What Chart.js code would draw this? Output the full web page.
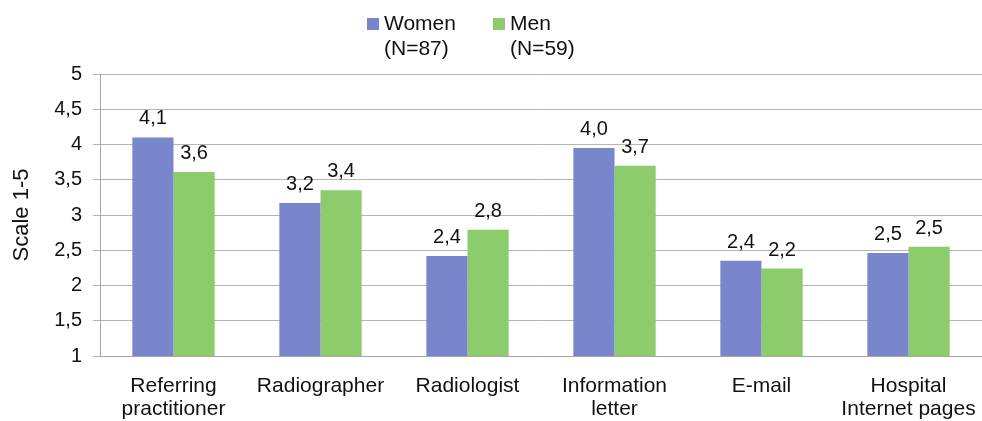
<!DOCTYPE html>
<html>
<head>
<meta charset="utf-8">
<script src="https://cdn.jsdelivr.net/npm/chart.js@4.4.1/dist/chart.umd.min.js"></script>
<style>
  html, body { margin: 0; padding: 0; background: #ffffff; }
  #wrap { width: 982px; height: 421px; position: relative; }
</style>
</head>
<body>
<div id="wrap"><canvas id="c" width="982" height="421"></canvas></div>
<script>
// ---- data ----
const categories = [
  ["Referring", "practitioner"],
  "Radiographer",
  "Radiologist",
  ["Information", "letter"],
  "E-mail",
  ["Hospital", "Internet pages"]
];
const womenValues = [4.10, 3.17, 2.42, 3.95, 2.35, 2.46];
const menValues   = [3.61, 3.35, 2.79, 3.70, 2.24, 2.55];
const womenLabels = ["4,1", "3,2", "2,4", "4,0", "2,4", "2,5"];
const menLabels   = ["3,6", "3,4", "2,8", "3,7", "2,2", "2,5"];
const seriesNames = [["Women", "(N=87)"], ["Men", "(N=59)"]];
const yTickLabels = ["1", "1,5", "2", "2,5", "3", "3,5", "4", "4,5", "5"];

const FONT = "'Liberation Sans', Arial, sans-serif";
const WOMEN_COLOR = "#7a86cb";
const MEN_COLOR = "#8ccc6d";

const dataLabelPlugin = {
  id: "dataLabels",
  afterDatasetsDraw(chart) {
    const ctx = chart.ctx;
    const labelSets = [womenLabels, menLabels];
    ctx.save();
    ctx.font = "20px " + FONT;
    ctx.fillStyle = "#111";
    ctx.textAlign = "center";
    ctx.textBaseline = "alphabetic";
    chart.data.datasets.forEach((ds, i) => {
      const meta = chart.getDatasetMeta(i);
      meta.data.forEach((bar, j) => {
        ctx.fillText(labelSets[i][j], bar.x, bar.y - 13);
      });
    });
    ctx.restore();
  }
};

const customLegend = {
  id: "customLegend",
  afterDraw(chart) {
    const ctx = chart.ctx;
    const items = [
      { color: WOMEN_COLOR, x: 367, text: seriesNames[0] },
      { color: MEN_COLOR, x: 493, text: seriesNames[1] }
    ];
    ctx.save();
    ctx.font = "21px " + FONT;
    ctx.textBaseline = "middle";
    ctx.textAlign = "left";
    items.forEach(it => {
      ctx.fillStyle = it.color;
      ctx.fillRect(it.x, 18, 12, 12);
      ctx.fillStyle = "#111";
      ctx.fillText(it.text[0], it.x + 17, 24);
      ctx.fillText(it.text[1], it.x + 17, 49);
    });
    ctx.restore();
  }
};

new Chart(document.getElementById("c"), {
  type: "bar",
  data: {
    labels: categories,
    datasets: [
      { label: "Women (N=87)", data: womenValues, backgroundColor: WOMEN_COLOR,
        categoryPercentage: 0.56, barPercentage: 1.0, borderWidth: 0 },
      { label: "Men (N=59)", data: menValues, backgroundColor: MEN_COLOR,
        categoryPercentage: 0.56, barPercentage: 1.0, borderWidth: 0 }
    ]
  },
  options: {
    responsive: false,
    animation: false,
    devicePixelRatio: 1,
    layout: { padding: { top: 74, right: 0, bottom: 0, left: 0 } },
    plugins: {
      legend: { display: false },
      tooltip: { enabled: false }
    },
    scales: {
      x: {
        afterFit(scale) { scale.height = 65; scale.paddingRight = 0; scale.paddingLeft = 0; },
        grid: { display: false },
        border: { display: true, color: "#a6a6a6", width: 1 },
        ticks: {
          color: "#111",
          font: { family: FONT, size: 21, lineHeight: 1.1 },
          padding: 11,
          maxRotation: 0,
          autoSkip: false
        }
      },
      y: {
        min: 1,
        max: 5,
        afterFit(scale) { scale.width = 100; },
        grid: { color: "#b4b4b4", lineWidth: 1, tickLength: 7, drawTicks: true },
        border: { display: true, color: "#a6a6a6", width: 1 },
        title: {
          display: true,
          text: "Scale 1-5",
          color: "#111",
          font: { family: FONT, size: 22 },
          padding: { top: 9, bottom: 0 }
        },
        ticks: {
          stepSize: 0.5,
          color: "#111",
          font: { family: FONT, size: 20 },
          padding: 11,
          callback: (v, i) => yTickLabels[i]
        }
      }
    }
  },
  plugins: [dataLabelPlugin, customLegend]
});
</script>
</body>
</html>
